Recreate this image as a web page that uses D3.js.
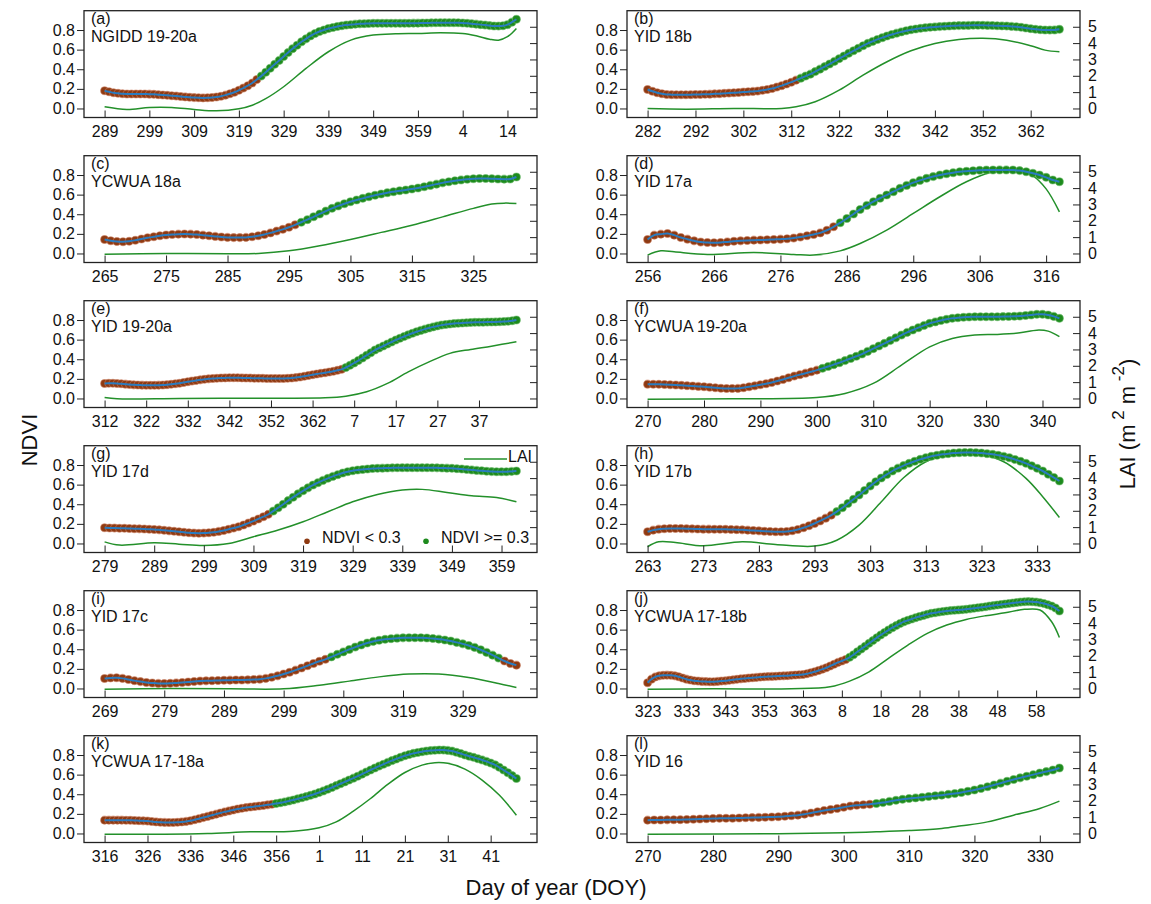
<!DOCTYPE html>
<html lang="en">
<head>
<meta charset="utf-8">
<title>NDVI and LAI by day of year</title>
<script src="https://d3js.org/d3.v7.min.js"></script>
<style>
  body { margin: 0; background: #fff; }
  svg { font-family: "Liberation Sans", Arial, Helvetica, sans-serif; display: block; }
  .tick text { font-size: 16px; fill: #111; }
  .tick line { stroke: #222; }
</style>
</head>
<body>
<div id="chart"></div>
<script>
// panel labels and site names, in reading order (a)..(l)
const panelTags = ["(a)", "(b)", "(c)", "(d)", "(e)", "(f)", "(g)", "(h)", "(i)", "(j)", "(k)", "(l)"];
const siteNames = ["NGIDD 19-20a", "YID 18b", "YCWUA 18a", "YID 17a", "YID 19-20a", "YCWUA 19-20a",
                   "YID 17d", "YID 17b", "YID 17c", "YCWUA 17-18b", "YCWUA 17-18a", "YID 16"];
// first day of each NDVI series (days past 365 run on into the next year)
const startDoy = [289, 282, 265, 256, 312, 270, 279, 263, 269, 323, 316, 270];
const ndviTicks = [0, 0.2, 0.4, 0.6, 0.8];
const laiTicks = [0, 1, 2, 3, 4, 5];

// daily NDVI
const ndviA = [.18,.17,.16,.155,.15,.148,.148,.148,.148,.147, .146,.144,.141,.138,.134,.13,.126,.122,.118,.114,
  .111,.109,.108,.109,.112,.117,.125,.136,.15,.166, .186,.208,.232,.26,.295,.33,.37,.41,.45,.49,
  .53,.57,.61,.645,.68,.71,.74,.765,.785,.80, .815,.826,.836,.844,.85,.855,.86,.863,.865,.867,
  .868,.868,.868,.868,.868,.868,.868,.868,.869,.87, .87,.871,.872,.873,.874,.875,.875,.875,.875,.874,
  .872,.869,.865,.86,.855,.85,.845,.841,.84,.843, .855,.88,.91];
const ndviB = [.194,.175,.16,.15,.143,.141,.14,.14,.14,.141, .142,.143,.145,.146,.149,.151,.154,.157,.16,.163,
  .167,.17,.174,.177,.185,.194,.204,.218,.233,.249, .268,.289,.309,.33,.35,.376,.401,.427,.453,.48,
  .508,.535,.562,.588,.614,.64,.664,.684,.704,.722, .739,.754,.768,.781,.793,.802,.81,.817,.824,.828,
  .832,.835,.838,.841,.843,.845,.846,.847,.848,.848, .848,.847,.846,.844,.842,.84,.837,.834,.828,.821,
  .814,.808,.803,.8,.799,.801,.807];
const ndviC = [.143,.13,.122,.12,.125,.135,.147,.16,.17,.18, .188,.194,.197,.198,.197,.193,.187,.18,.174,.168,
  .164,.162,.162,.164,.17,.18,.194,.21,.228,.246, .268,.292,.318,.345,.374,.403,.432,.46,.485,.507,
  .527,.545,.562,.578,.593,.607,.62,.63,.639,.647, .657,.668,.68,.694,.707,.72,.731,.741,.75,.757,
  .762,.765,.765,.763,.76,.758,.76,.78];
const ndviD = [.143,.187,.197,.204,.187,.163,.146,.129,.116,.112, .11,.112,.118,.124,.129,.133,.136,.138,.14,.143,
  .146,.15,.157,.167,.18,.194,.21,.237,.272,.313, .357,.403,.449,.49,.528,.563,.596,.63,.664,.694,
  .722,.745,.766,.784,.8,.813,.824,.833,.839,.844, .848,.85,.851,.852,.852,.851,.845,.834,.818,.8,
  .776,.749,.732];
const ndviE = [.153,.155,.155,.153,.15,.146,.142,.139,.137,.136, .135,.135,.135,.136,.138,.141,.145,.15,.156,.163,
  .17,.177,.184,.19,.196,.2,.204,.207,.209,.21, .211,.211,.211,.21,.209,.208,.207,.206,.205,.204,
  .203,.203,.203,.204,.206,.209,.213,.219,.226,.234, .242,.25,.256,.263,.27,.278,.287,.297,.316,.338,
  .362,.387,.413,.44,.467,.494,.515,.535,.556,.576, .596,.614,.632,.649,.665,.68,.694,.707,.719,.73,
  .74,.748,.755,.76,.764,.767,.77,.772,.774,.776, .777,.778,.779,.78,.781,.783,.785,.788,.793,.8];
const ndviF = [.146,.145,.144,.142,.14,.137,.134,.131,.127,.123, .119,.114,.109,.105,.102,.101,.103,.11,.119,.129,
  .14,.151,.163,.178,.194,.211,.228,.243,.258,.273, .289,.307,.326,.345,.364,.386,.408,.43,.453,.48,
  .508,.535,.562,.59,.618,.646,.674,.698,.722,.745, .766,.781,.795,.807,.817,.823,.828,.831,.834,.834,
  .834,.834,.834,.835,.836,.838,.84,.846,.852,.858, .858,.851,.837,.817];
const ndviG = [.16,.158,.157,.156,.155,.153,.151,.149,.147,.145, .143,.139,.134,.129,.124,.119,.114,.109,.106,.105,
  .106,.109,.115,.123,.133,.145,.157,.17,.189,.208, .228,.25,.273,.297,.33,.365,.4,.437,.472,.506,
  .537,.567,.596,.62,.643,.664,.684,.702,.718,.731, .741,.749,.755,.76,.764,.766,.768,.77,.771,.772,
  .773,.773,.773,.773,.773,.773,.772,.771,.77,.768, .766,.763,.759,.755,.75,.745,.741,.737,.733,.731,
  .731,.732,.735,.739];
const ndviH = [.119,.136,.146,.15,.152,.153,.152,.151,.149,.148, .146,.146,.145,.145,.144,.143,.141,.139,.136,.132,
  .129,.125,.122,.12,.119,.122,.13,.143,.16,.18, .204,.23,.258,.289,.325,.364,.407,.451,.494,.54,
  .585,.63,.668,.704,.739,.768,.794,.817,.839,.858, .875,.889,.9,.909,.916,.922,.926,.928,.928,.926,
  .922,.916,.909,.899,.888,.875,.857,.838,.817,.792, .766,.739,.706,.672,.637];
const ndviI = [.102,.108,.109,.103,.092,.08,.07,.061,.056,.052, .051,.053,.057,.061,.066,.071,.075,.078,.08,.082,
  .084,.085,.086,.087,.088,.091,.095,.103,.115,.129, .147,.166,.187,.209,.232,.255,.277,.297,.322,.348,
  .373,.398,.422,.444,.464,.48,.492,.501,.508,.513, .516,.518,.518,.517,.514,.51,.503,.495,.484,.47,
  .455,.438,.419,.395,.368,.34,.31,.28,.255,.238];
const ndviJ = [.058,.095,.118,.129,.134,.136,.134,.129,.119,.107, .095,.086,.079,.075,.072,.07,.068,.069,.072,.075,
  .078,.083,.088,.093,.098,.102,.106,.11,.113,.116, .119,.121,.123,.125,.127,.129,.131,.134,.137,.14,
  .143,.15,.16,.17,.183,.197,.211,.229,.247,.266, .28,.296,.318,.344,.374,.402,.431,.46,.488,.517,
  .545,.571,.596,.62,.641,.662,.681,.695,.709,.722, .734,.745,.756,.766,.772,.779,.785,.79,.794,.797,
  .801,.804,.807,.812,.818,.823,.829,.834,.84,.845, .851,.856,.861,.866,.871,.876,.881,.885,.886,.885,
  .881,.875,.866,.855,.841,.82,.79];
const ndviK = [.136,.136,.136,.136,.136,.135,.134,.133,.131,.129, .126,.122,.118,.115,.113,.112,.112,.114,.118,.123,
  .13,.14,.151,.162,.174,.186,.197,.209,.22,.23, .24,.249,.257,.264,.27,.275,.28,.286,.292,.298,
  .305,.313,.322,.332,.342,.353,.364,.376,.389,.403, .418,.434,.451,.469,.488,.507,.526,.545,.564,.584,
  .605,.626,.647,.667,.687,.706,.725,.743,.76,.777, .793,.806,.817,.826,.834,.84,.845,.849,.851,.85,
  .847,.84,.829,.815,.8,.788,.776,.763,.75,.735, .718,.7,.675,.647,.62,.59,.56];
const ndviL = [.136,.137,.138,.139,.14,.141,.143,.145,.147,.15, .153,.154,.155,.156,.158,.16,.162,.164,.166,.168,
  .17,.175,.181,.187,.197,.209,.221,.234,.245,.255, .268,.279,.288,.293,.298,.305,.315,.327,.338,.348,
  .356,.363,.37,.377,.384,.391,.399,.408,.418,.43, .443,.459,.476,.494,.513,.532,.55,.567,.584,.6,
  .616,.631,.647,.667];

// LAI curves as [day, LAI] samples
const laiA = [[289,0.1],[294,-0.06],[299,0.06],[304,0.06],[309,-0.06],[314,-0.14],[319,-0.02],[322,0.2],[325,0.6],
  [329,1.33],[334,2.45],[339,3.47],[344,4.18],[349,4.49],[354,4.57],[359,4.59],[364,4.63],[369,4.59],[372,4.45],
  [375,4.24],[377,4.18],[379,4.39],[381,4.9]];
const laiB = [[282,0],[290,-0.04],[300,0],[310,0],[313,0.1],[317,0.41],[322,1.12],[327,2.04],[332,2.86],[337,3.53],
  [342,3.98],[347,4.22],[352,4.29],[357,4.18],[362,3.84],[365,3.57],[368,3.47]];
const laiC = [[265,-0.04],[275,0],[285,-0.02],[290,0],[295,0.16],[300,0.47],[305,0.86],[310,1.29],[315,1.73],
  [320,2.24],[325,2.76],[328,3.02],[330,3.08],[332,3.06]];
const laiD = [[256,-0.1],[258,0.16],[260,0.1],[265,-0.06],[272,0.06],[278,-0.06],[281,-0.1],[285,0.16],[288,0.61],
  [292,1.43],[296,2.45],[300,3.47],[304,4.39],[308,5.0],[311,5.14],[314,4.75],[316,3.95],[318,2.55]];
const laiE = [[312,0.06],[315,-0.02],[330,0],[350,0.02],[365,0.04],[370,0.14],[375,0.41],[380,0.92],[385,1.63],
  [390,2.24],[395,2.76],[400,3.0],[405,3.2],[411,3.47]];
const laiF = [[270,-0.04],[285,-0.02],[300,0.06],[305,0.31],[310,0.92],[315,2.04],[320,3.16],[324,3.67],[328,3.88],
  [332,3.92],[336,4.02],[339,4.18],[341,4.12],[343,3.78]];
const laiG = [[279,0.1],[282,-0.1],[289,0.04],[294,-0.04],[299,-0.12],[304,0],[309,0.41],[314,0.82],[319,1.33],
  [324,1.94],[329,2.55],[334,3.0],[339,3.27],[343,3.31],[348,3.12],[353,2.92],[358,2.82],[362,2.55]];
const laiH = [[263,-0.2],[265,0.1],[268,0.06],[273,-0.14],[280,0.1],[286,-0.06],[293,-0.16],[297,0.2],[301,1.12],
  [305,2.55],[309,4.02],[313,5.0],[317,5.41],[320,5.51],[323,5.45],[327,5.0],[331,3.98],[334,2.86],[337,1.59]];
const laiI = [[269,-0.04],[280,0],[290,-0.02],[299,-0.02],[305,0.2],[310,0.45],[315,0.71],[320,0.88],[325,0.88],
  [330,0.67],[335,0.31],[338,0.06]];
const laiJ = [[323,-0.04],[340,-0.02],[360,-0.02],[370,0.1],[375,0.45],[380,1.02],[385,1.84],[390,2.65],[395,3.37],
  [400,3.88],[405,4.22],[410,4.45],[415,4.63],[420,4.84],[424,4.8],[427,4.08],[429,3.12]];
const laiK = [[316,-0.04],[330,-0.04],[340,0],[350,0.1],[360,0.14],[366,0.35],[370,0.71],[374,1.37],[378,2.14],
  [382,3.0],[386,3.73],[390,4.18],[393,4.33],[396,4.29],[400,3.94],[404,3.27],[408,2.35],[412,1.12]];
const laiL = [[270,-0.04],[290,-0.02],[300,0.04],[305,0.1],[310,0.18],[315,0.31],[318,0.47],[322,0.71],[326,1.12],
  [330,1.53],[333,1.98]];

const ndviSeries = [ndviA, ndviB, ndviC, ndviD, ndviE, ndviF, ndviG, ndviH, ndviI, ndviJ, ndviK, ndviL];
const laiSeries = [laiA, laiB, laiC, laiD, laiE, laiF, laiG, laiH, laiI, laiJ, laiK, laiL];

const width = 1151, height = 904;
const colLeft = [84, 627], frameW = 453, frameH = 106.8;
const rowTop = 10.7, rowStep = 145;
const ndviDomain = [-0.092, 0.997];
const laiDomain = [-0.552, 5.982];

const brown = "#8e3a12", green = "#1d8a1d", blue = "#2a7cc0", laiColor = "#23902a";

const svg = d3.select("#chart").append("svg")
  .attr("width", width).attr("height", height);
svg.append("rect").attr("width", width).attr("height", height).attr("fill", "#fff");

panelTags.forEach((tag, i) => {
  const col = i % 2, row = Math.floor(i / 2);
  const g = svg.append("g")
    .attr("transform", "translate(" + colLeft[col] + "," + (rowTop + row * rowStep) + ")");

  const pts = ndviSeries[i].map((v, k) => ({ day: startDoy[i] + k, v: v }));
  const first = pts[0].day, last = pts[pts.length - 1].day, span = last - first;

  const x = d3.scaleLinear().domain([first - 0.05 * span, last + 0.05 * span]).range([0, frameW]);
  const y = d3.scaleLinear().domain(ndviDomain).range([frameH, 0]);
  const yLai = d3.scaleLinear().domain(laiDomain).range([frameH, 0]);

  g.append("clipPath").attr("id", "clip" + i)
    .append("rect").attr("width", frameW).attr("height", frameH);
  const plot = g.append("g").attr("clip-path", "url(#clip" + i + ")");

  // LAI curve
  plot.append("path")
    .datum(laiSeries[i])
    .attr("fill", "none")
    .attr("stroke", laiColor)
    .attr("stroke-width", 1.5)
    .attr("d", d3.line().x(d => x(d[0])).y(d => yLai(d[1])).curve(d3.curveCatmullRom.alpha(0.5)));

  // NDVI points
  plot.selectAll(".dot")
    .data(pts)
    .enter().append("circle")
    .attr("class", "dot")
    .attr("cx", d => x(d.day))
    .attr("cy", d => y(d.v))
    .attr("r", 4)
    .attr("fill", d => d.v < 0.3 ? brown : green)
    .attr("stroke", d => d.v < 0.3 ? "rgba(205,130,100,0.55)" : "rgba(110,190,110,0.55)")
    .attr("stroke-width", 1.1);

  // smoothed NDVI line
  plot.append("path")
    .datum(pts)
    .attr("fill", "none")
    .attr("stroke", blue)
    .attr("stroke-width", 2)
    .attr("d", d3.line().x(d => x(d.day)).y(d => y(d.v)).curve(d3.curveCatmullRom.alpha(0.5)));

  // legend in panel (g)
  if (i === 6) {
    const lg = g.append("g");
    lg.append("rect").attr("x", 203).attr("y", 83).attr("width", 249).attr("height", 22).attr("fill", "#fff");
    lg.append("line").attr("x1", 380).attr("x2", 423).attr("y1", 13.3).attr("y2", 13.3)
      .attr("stroke", laiColor).attr("stroke-width", 1.5);
    lg.append("text").attr("x", 424).attr("y", 16.5).attr("font-size", 16).attr("fill", "#111").text("LAI");
    lg.append("circle").attr("cx", 223).attr("cy", 95.5).attr("r", 2.8).attr("fill", brown);
    lg.append("text").attr("x", 238).attr("y", 97.5).attr("font-size", 16).attr("fill", "#111").text("NDVI < 0.3");
    lg.append("circle").attr("cx", 342).attr("cy", 95.5).attr("r", 2.8).attr("fill", green);
    lg.append("text").attr("x", 357).attr("y", 97.5).attr("font-size", 16).attr("fill", "#111").text("NDVI >= 0.3");
  }

  // axes: ticks every 10 days from the first day, labels wrap past day 365
  const xTicks = d3.range(first, last + 1, 10);
  g.append("g")
    .attr("transform", "translate(0," + frameH + ")")
    .call(d3.axisBottom(x).tickValues(xTicks)
      .tickFormat(d => d > 365 ? d - 365 : d)
      .tickSizeInner(-7).tickSizeOuter(0).tickPadding(8.6))
    .call(a => a.select(".domain").remove());

  g.append("g")
    .call(d3.axisLeft(y).tickValues(ndviTicks).tickFormat(d3.format(".1f"))
      .tickSizeInner(7).tickSizeOuter(0).tickPadding(2))
    .call(a => a.select(".domain").remove());

  g.append("g")
    .attr("transform", "translate(" + frameW + ",0)")
    .call(d3.axisRight(yLai).tickValues(laiTicks)
      .tickFormat(col === 1 ? d3.format("d") : "")
      .tickSizeInner(-7).tickSizeOuter(0).tickPadding(8))
    .call(a => a.select(".domain").remove());

  g.append("rect")
    .attr("width", frameW).attr("height", frameH)
    .attr("fill", "none").attr("stroke", "#222").attr("stroke-width", 1.3);

  g.append("text").attr("x", 7).attr("y", 13.5).attr("font-size", 16).attr("fill", "#111").text(tag);
  g.append("text").attr("x", 7).attr("y", 31).attr("font-size", 16).attr("fill", "#111").text(siteNames[i]);
});

// axis titles
svg.append("text")
  .attr("transform", "translate(37,440) rotate(-90)")
  .attr("text-anchor", "middle").attr("font-size", 22).attr("fill", "#111")
  .text("NDVI");

const laiTitle = svg.append("text")
  .attr("transform", "translate(1135,424) rotate(-90)")
  .attr("text-anchor", "middle").attr("font-size", 22).attr("fill", "#111");
laiTitle.append("tspan").text("LAI (m");
laiTitle.append("tspan").attr("dy", -11).attr("font-size", 17).text(" 2");
laiTitle.append("tspan").attr("dy", 11).text(" m");
laiTitle.append("tspan").attr("dy", -11).attr("font-size", 17).text(" -2");
laiTitle.append("tspan").attr("dy", 11).text(")");

svg.append("text")
  .attr("x", 556).attr("y", 895)
  .attr("text-anchor", "middle").attr("font-size", 22).attr("fill", "#111")
  .text("Day of year (DOY)");
</script>
</body>
</html>
